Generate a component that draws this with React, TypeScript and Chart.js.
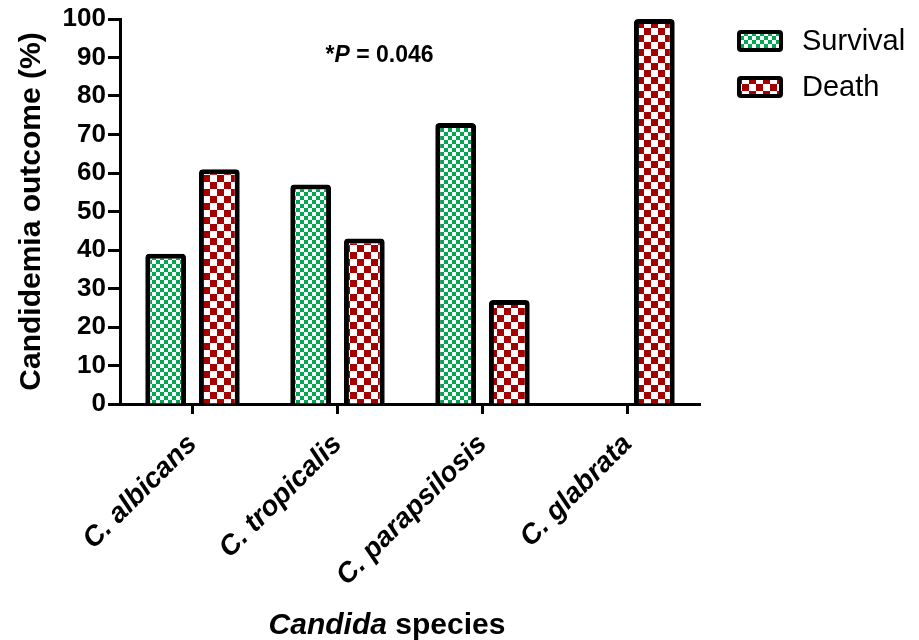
import React, { useEffect, useRef } from 'react';
import { Chart, registerables } from 'chart.js';

Chart.register(...registerables);

// ---- data ----
const categories = ['C. albicans', 'C. tropicalis', 'C. parapsilosis', 'C. glabrata'];
const seriesNames = ['Survival', 'Death'];
const survivalValues = [39, 57, 73, 0];
const deathValues = [61, 43, 27, 100];
const yMin = 0;
const yMax = 100;
const yStep = 10;
const yTitle = 'Candidemia outcome (%)';
const xTitleItalic = 'Candida';
const xTitleRest = ' species';
const pStar = '*';
const pLetter = 'P';
const pRest = ' = 0.046';

const FONT = '"Liberation Sans", Arial, Helvetica, sans-serif';

function checker(color: string, cell: number): CanvasPattern | string {
  const c = document.createElement('canvas');
  c.width = cell * 2;
  c.height = cell * 2;
  const g = c.getContext('2d');
  if (!g) return color;
  g.fillStyle = '#ffffff';
  g.fillRect(0, 0, cell * 2, cell * 2);
  g.fillStyle = color;
  g.fillRect(0, 0, cell, cell);
  g.fillRect(cell, cell, cell, cell);
  return g.createPattern(c, 'repeat') || color;
}

const sideLegend = {
  id: 'sideLegend',
  afterDraw(chart: any) {
    const { ctx, chartArea } = chart;
    chart.data.datasets.forEach((ds: any, i: number) => {
      const x = chartArea.right + 37;
      const y = 30 + i * 46;
      ctx.save();
      ctx.beginPath();
      (ctx as any).roundRect(x, y, 46, 22, 4);
      ctx.fillStyle = '#000';
      ctx.fill();
      ctx.fillStyle = ds.backgroundColor;
      ctx.fillRect(x + 4, y + 4, 38, 14);
      ctx.font = `29px ${FONT}`;
      ctx.fillStyle = '#000';
      ctx.textBaseline = 'middle';
      ctx.textAlign = 'left';
      ctx.fillText(ds.label, x + 65, y + 12);
      ctx.restore();
    });
  },
};

const extraText = {
  id: 'extraText',
  afterDraw(chart: any) {
    const { ctx } = chart;
    const xs = chart.scales.x;
    const ys = chart.scales.y;
    ctx.save();
    ctx.fillStyle = '#000';
    ctx.textBaseline = 'alphabetic';
    ctx.textAlign = 'left';

    // x-axis title with mixed styles
    const fi = `italic bold 30px ${FONT}`;
    const fb = `bold 30px ${FONT}`;
    ctx.font = fi;
    const w1 = ctx.measureText(xTitleItalic).width;
    ctx.font = fb;
    const w2 = ctx.measureText(xTitleRest).width;
    const cx = (xs.left + xs.right) / 2 - 23;
    let sx = cx - (w1 + w2) / 2;
    const by = xs.bottom - 6;
    ctx.font = fi;
    ctx.fillText(xTitleItalic, sx, by);
    ctx.font = fb;
    ctx.fillText(xTitleRest, sx + w1, by);

    // P-value annotation
    const f1 = `bold 23px ${FONT}`;
    const f2 = `italic bold 23px ${FONT}`;
    ctx.font = f1;
    const a = ctx.measureText(pStar).width;
    const c = ctx.measureText(pRest).width;
    ctx.font = f2;
    const b = ctx.measureText(pLetter).width;
    const pcx = xs.getPixelForValue(1) + 42;
    const py = ys.getPixelForValue(91) + 8;
    sx = pcx - (a + b + c) / 2;
    ctx.font = f1;
    ctx.fillText(pStar, sx, py);
    ctx.font = f2;
    ctx.fillText(pLetter, sx + a, py);
    ctx.font = f1;
    ctx.fillText(pRest, sx + a + b, py);
    ctx.restore();
  },
};

export default function App() {
  const ref = useRef<HTMLCanvasElement | null>(null);

  useEffect(() => {
    if (!ref.current) return;
    const green = checker('#00a650', 4);
    const red = checker('#a40000', 7);
    const chart = new Chart(ref.current, {
      type: 'bar',
      data: {
        labels: categories,
        datasets: [
          {
            label: seriesNames[0],
            data: survivalValues,
            backgroundColor: green as any,
            borderColor: '#000',
            borderWidth: 5,
            borderRadius: 4,
            borderSkipped: 'start',
          },
          {
            label: seriesNames[1],
            data: deathValues,
            backgroundColor: red as any,
            borderColor: '#000',
            borderWidth: 5,
            borderRadius: 4,
            borderSkipped: 'start',
          },
        ],
      },
      options: {
        responsive: false,
        animation: false,
        events: [],
        layout: { padding: { top: 19, right: 219, left: 0, bottom: 0 } },
        datasets: { bar: { categoryPercentage: 0.74, barPercentage: 0.76 } },
        plugins: {
          legend: { display: false },
          tooltip: { enabled: false },
          title: { display: false },
        },
        scales: {
          x: {
            offset: true,
            afterFit: (s: any) => {
              s.height = 236;
            },
            grid: {
              display: true,
              offset: false,
              drawOnChartArea: false,
              drawTicks: true,
              tickLength: 10,
              tickWidth: 3,
              tickColor: '#000',
            },
            border: { display: true, color: '#000', width: 3 },
            ticks: {
              color: '#000',
              maxRotation: 45,
              minRotation: 45,
              autoSkip: false,
              padding: 14,
              font: { family: FONT, size: 28, weight: 'bold', style: 'italic' },
            },
          },
          y: {
            min: yMin,
            max: yMax,
            afterFit: (s: any) => {
              s.width = 120;
            },
            grid: {
              display: true,
              drawOnChartArea: false,
              drawTicks: true,
              tickLength: 12,
              tickWidth: 3,
              tickColor: '#000',
            },
            border: { display: true, color: '#000', width: 3 },
            ticks: {
              stepSize: yStep,
              color: '#000',
              padding: 2,
              font: { family: FONT, size: 26, weight: 'bold' },
            },
            title: {
              display: true,
              text: yTitle,
              color: '#000',
              padding: { top: 14, bottom: 0 },
              font: { family: FONT, size: 30, weight: 'bold' },
            },
          },
        },
      },
      plugins: [sideLegend, extraText],
    });
    return () => chart.destroy();
  }, []);

  return (
    <div style={{ position: 'fixed', left: 0, top: 0, width: 919, height: 640, background: '#fff' }}>
      <canvas ref={ref} width={919} height={640} />
    </div>
  );
}
